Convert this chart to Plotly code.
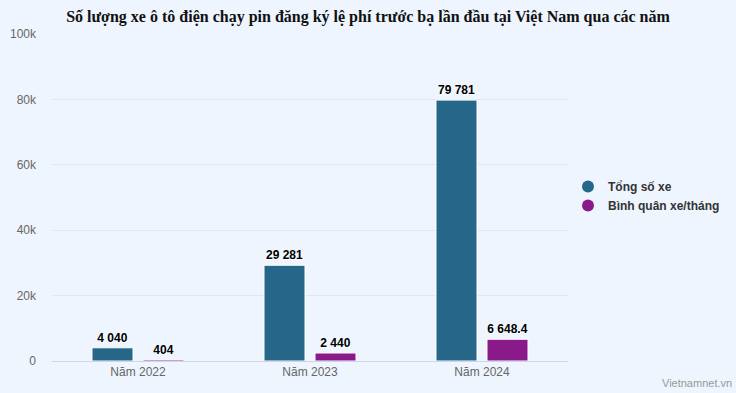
import plotly.graph_objects as go

categories = ["Năm 2022", "Năm 2023", "Năm 2024"]
tong_so_xe = [4040, 29281, 79781]
binh_quan = [404, 2440, 6648.4]
series_names = ["Tổng số xe", "Bình quân xe/tháng"]
colors = ["#266689", "#8a1a8a"]
title = "Số lượng xe ô tô điện chạy pin đăng ký lệ phí trước bạ lần đầu tại Việt Nam qua các năm"

SANS = "Liberation Sans"

fig = go.Figure()
for name, vals, col in zip(series_names, [tong_so_xe, binh_quan], colors):
    fig.add_trace(go.Bar(
        x=categories, y=vals, name=name, showlegend=False,
        marker=dict(color=col, line=dict(color="#ffffff", width=1)),
        texttemplate="%{y:,}", textposition="outside", cliponaxis=False,
        textfont=dict(family=SANS, size=12, color="#000000", weight="bold",
                      shadow="1px 1px 1px #ffffff"),
    ))
    fig.add_trace(go.Scatter(
        x=[None], y=[None], mode="markers", name=name,
        marker=dict(color=col, size=10, symbol="circle"),
    ))

fig.update_layout(
    width=736, height=393,
    paper_bgcolor="#eef5fe", plot_bgcolor="#eef5fe",
    separators=". ",
    margin=dict(l=52, r=168, t=34, b=32, autoexpand=False),
    barmode="group", bargap=0.407, bargroupgap=0.196,
    uniformtext=dict(minsize=12, mode="show"),
    title=dict(text="<b>" + title + "</b>", x=0.5, xanchor="center", y=(393 - 16) / 393,
               yanchor="middle", xref="container", yref="container",
               font=dict(family="Liberation Serif", size=16, color="#111111")),
    font=dict(family=SANS, color="#666666", size=12),
    legend=dict(xref="container", yref="container", x=568 / 736, xanchor="left",
                y=(393 - 196) / 393, yanchor="middle",
                font=dict(family=SANS, size=12, color="#333333", weight="bold"),
                bgcolor="rgba(0,0,0,0)", itemsizing="constant", tracegroupgap=0),
    xaxis=dict(showgrid=False, showline=True, linecolor="#ccd6eb", linewidth=1, automargin=False,
               ticks="", tickfont=dict(family=SANS, size=12, color="#666666"), fixedrange=True),
    yaxis=dict(range=[0, 100000], dtick=20000, tickformat="~s", showgrid=True, automargin=False,
               gridcolor="#e3e7ec", gridwidth=1, zeroline=False, ticks="",
               ticklabelstandoff=15, tickfont=dict(family=SANS, size=12, color="#666666")),
    annotations=[dict(text="Vietnamnet.vn", xref="paper", yref="paper", x=1.0, y=0,
                      xshift=166, yshift=-22, xanchor="right", yanchor="middle",
                      showarrow=False, font=dict(family=SANS, size=11, color="#999999"))],
)

fig.write_html("out.html", config={"displayModeBar": False},
               post_script="document.body.style.margin='0';document.body.style.overflow='hidden';")
